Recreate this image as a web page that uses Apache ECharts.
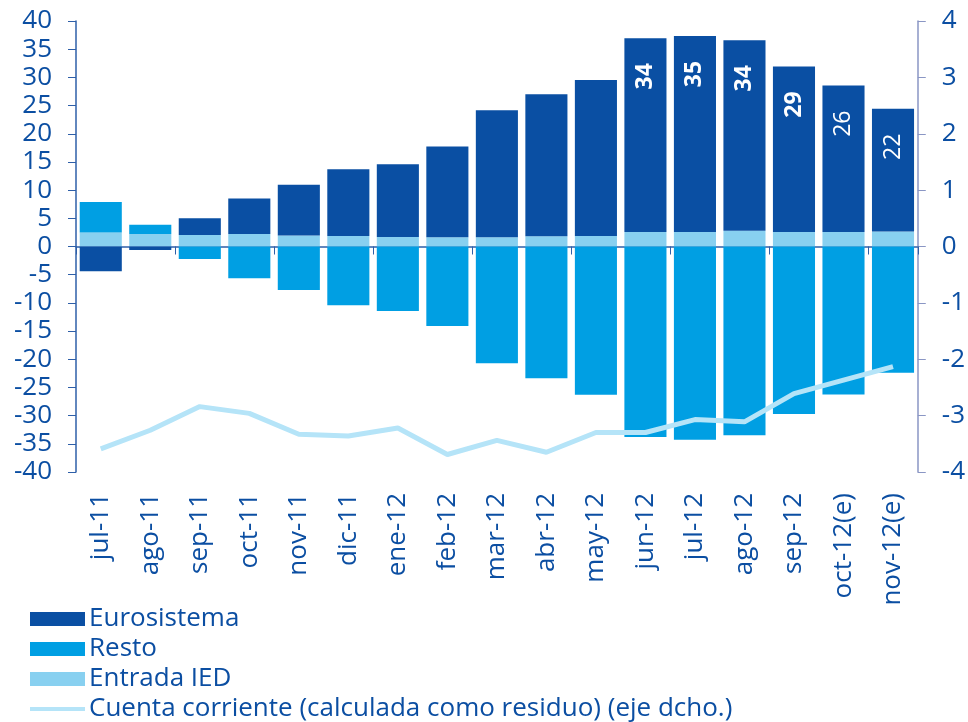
<!DOCTYPE html>
<html>
<head>
<meta charset="utf-8">
<script src="https://cdn.jsdelivr.net/npm/echarts@6/dist/echarts.min.js"></script>
<style>
  html, body { margin: 0; padding: 0; background: #fff; }
  #main { width: 968px; height: 722px; }
</style>
</head>
<body>
<div id="main"></div>
<script>
var months = ['jul-11', 'ago-11', 'sep-11', 'oct-11', 'nov-11', 'dic-11', 'ene-12', 'feb-12', 'mar-12',
  'abr-12', 'may-12', 'jun-12', 'jul-12', 'ago-12', 'sep-12', 'oct-12(e)', 'nov-12(e)'];
var eurosistema = [-4.4, -0.6, 2.95, 6.3, 9.0, 11.85, 12.9, 16.1, 22.5, 25.2, 27.7, 34.4, 34.8, 33.8, 29.4, 26.0, 21.8];
var resto = [5.4, 1.65, -2.2, -5.65, -7.7, -10.4, -11.45, -14.1, -20.7, -23.35, -26.3, -33.8, -34.3, -33.5, -29.7, -26.25, -22.4];
var entradaIED = [2.5, 2.2, 2.05, 2.2, 1.95, 1.85, 1.7, 1.65, 1.65, 1.8, 1.85, 2.55, 2.55, 2.8, 2.55, 2.55, 2.65];
var cuentaCorriente = [-3.59, -3.26, -2.84, -2.96, -3.33, -3.36, -3.22, -3.69, -3.44, -3.65, -3.30, -3.30, -3.07, -3.11, -2.61, -2.37, -2.13];
// labels written on the Eurosistema bars (null = no label), and which are bold
var euroLabels = [null, null, null, null, null, null, null, null, null, null, null, '34', '35', '34', '29', '26', '22'];
var euroLabelBold = [false, false, false, false, false, false, false, false, false, false, false, true, true, true, true, false, false];

var textBlue = '#0b4ea2';
var font = 'Open Sans';
var lineName = 'Cuenta corriente (calculada como residuo) (eje dcho.)';

var chart = echarts.init(document.getElementById('main'));

var euroData = eurosistema.map(function (v, i) {
  var item = { value: v };
  if (euroLabels[i]) {
    item.label = {
      show: true,
      formatter: euroLabels[i],
      fontWeight: euroLabelBold[i] ? 'bold' : 'normal'
    };
  }
  return item;
});

var option = {
  backgroundColor: '#fff',
  animation: false,
  textStyle: { fontFamily: font },
  grid: { left: 76, right: 48, top: 21, bottom: 250 },
  legend: {
    orient: 'vertical',
    left: 23,
    top: 601,
    height: 140,
    itemWidth: 55,
    itemHeight: 14,
    itemGap: 4,
    textStyle: { fontSize: 26, color: textBlue, fontFamily: font, padding: [0, 0, 0, -1] },
    data: [
      { name: 'Eurosistema', icon: 'rect' },
      { name: 'Resto', icon: 'rect' },
      { name: 'Entrada IED', icon: 'rect' },
      { name: lineName, itemStyle: { opacity: 0 }, lineStyle: { width: 4 } }
    ]
  },
  xAxis: [
    {
      type: 'category',
      data: months,
      position: 'bottom',
      axisLine: { onZero: true, lineStyle: { color: '#2e5fa8', width: 1.5 } },
      axisTick: { show: true, length: 8, lineStyle: { color: '#2e5fa8' } },
      axisLabel: { show: false },
      splitLine: { show: false }
    },
    {
      type: 'category',
      data: months,
      position: 'bottom',
      axisLine: { show: false, onZero: false },
      axisTick: { show: false },
      axisLabel: {
        rotate: 90,
        margin: 21,
        fontSize: 26,
        color: textBlue,
        fontFamily: font,
        interval: 0
      },
      splitLine: { show: false }
    }
  ],
  yAxis: [
    {
      type: 'value',
      min: -40,
      max: 40,
      interval: 5,
      position: 'left',
      axisLine: { show: true, lineStyle: { color: '#2e5fa8', width: 1.5 } },
      axisTick: { show: true, length: 8, lineStyle: { color: '#2e5fa8' } },
      axisLabel: { fontSize: 26, color: textBlue, margin: 24, fontFamily: font },
      splitLine: { show: false }
    },
    {
      type: 'value',
      min: -4,
      max: 4,
      interval: 1,
      position: 'right',
      axisLine: { show: true, lineStyle: { color: '#8a96c4', width: 1.5 } },
      axisTick: { show: true, length: 8, lineStyle: { color: '#8a96c4' } },
      axisLabel: { fontSize: 26, color: textBlue, margin: 24, fontFamily: font },
      splitLine: { show: false }
    }
  ],
  series: [
    {
      name: 'Entrada IED',
      type: 'bar',
      stack: 'total',
      barCategoryGap: '15%',
      itemStyle: { color: '#88d0f0' },
      data: entradaIED
    },
    {
      name: 'Eurosistema',
      type: 'bar',
      stack: 'total',
      barCategoryGap: '15%',
      itemStyle: { color: '#0a4fa3' },
      label: {
        show: false,
        position: 'insideTop',
        rotate: 90,
        align: 'right',
        verticalAlign: 'middle',
        distance: 25,
        color: '#fff',
        fontSize: 23,
        fontFamily: font
      },
      data: euroData
    },
    {
      name: 'Resto',
      type: 'bar',
      stack: 'total',
      barCategoryGap: '15%',
      itemStyle: { color: '#009fe3' },
      data: resto
    },
    {
      name: lineName,
      type: 'line',
      yAxisIndex: 1,
      symbol: 'none',
      lineStyle: { color: '#b5e4f8', width: 5 },
      itemStyle: { color: '#b5e4f8' },
      z: 5,
      data: cuentaCorriente
    }
  ]
};

chart.setOption(option);
</script>
</body>
</html>
